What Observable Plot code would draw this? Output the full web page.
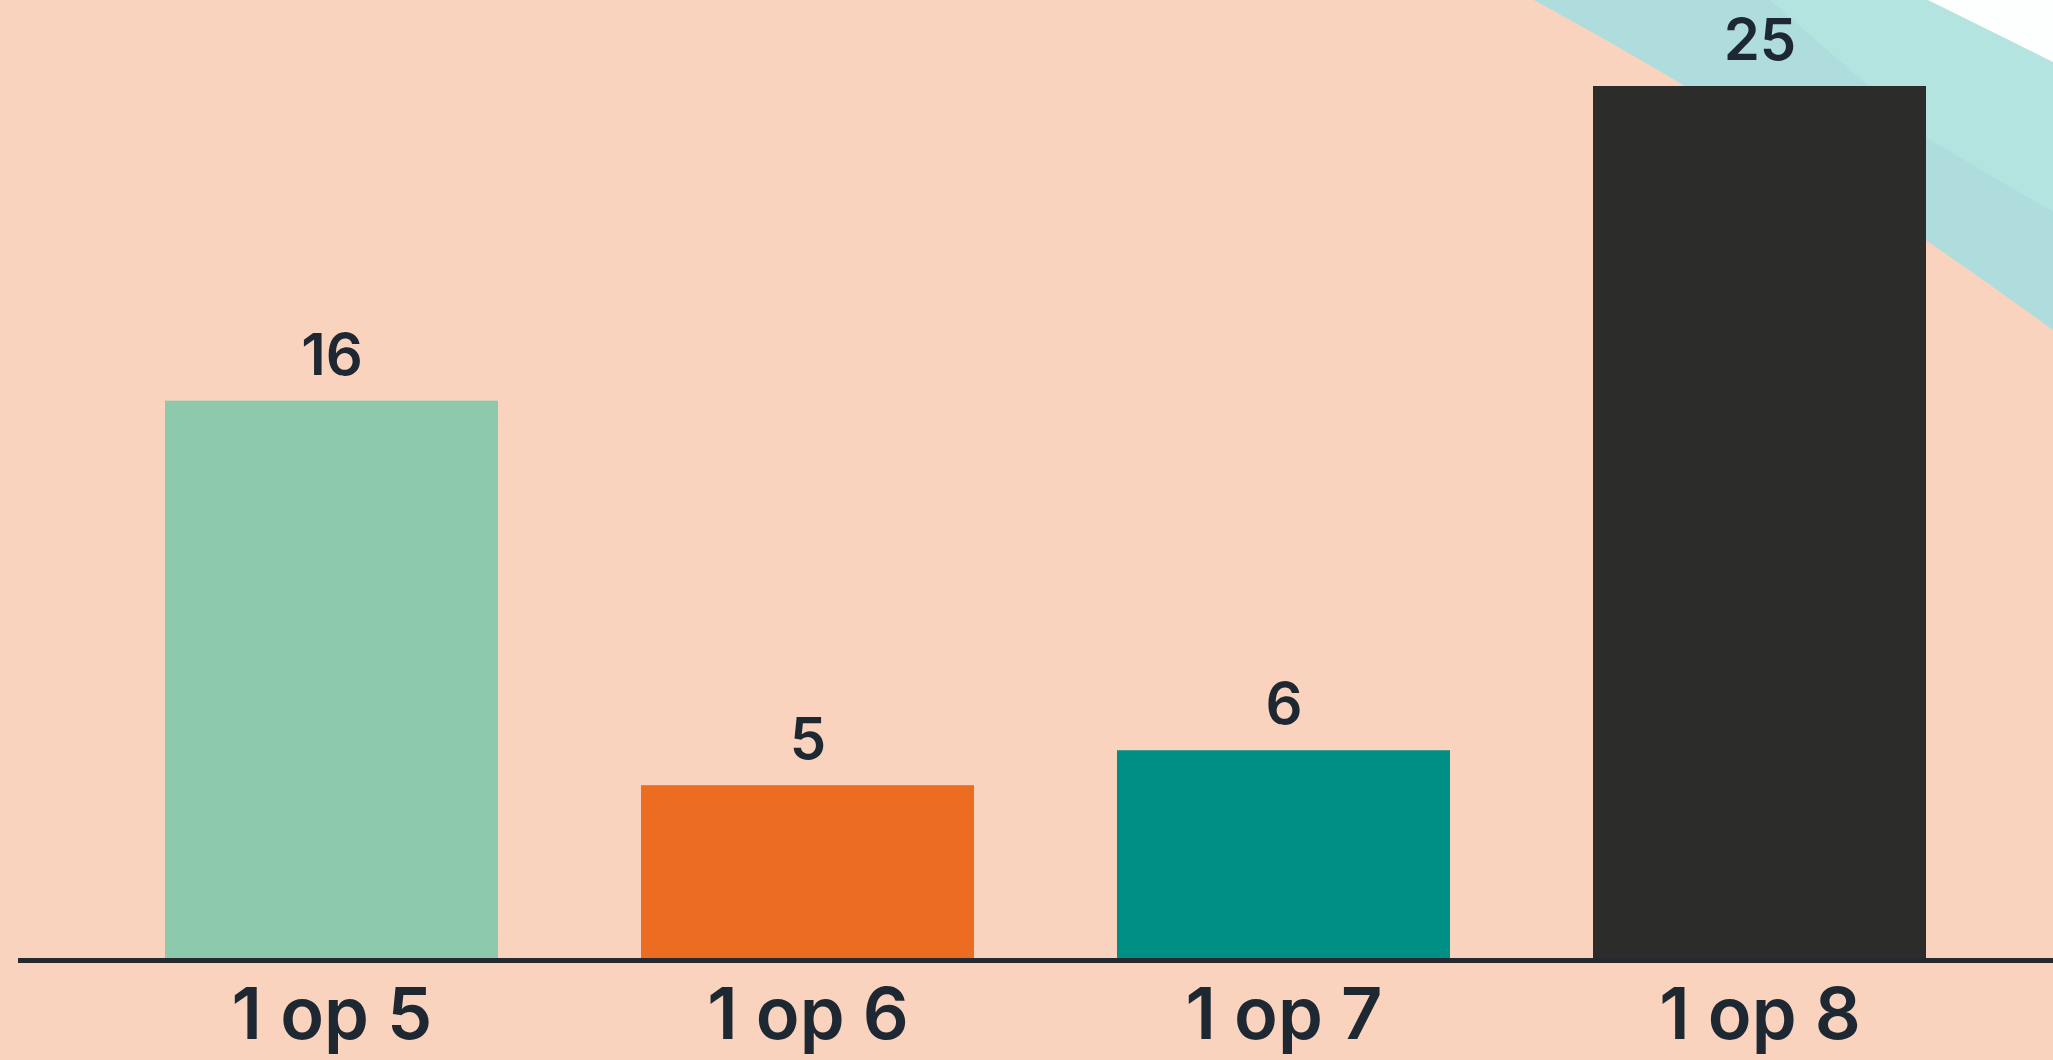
<!DOCTYPE html>
<html>
<head>
<meta charset="utf-8">
<script src="https://cdn.jsdelivr.net/npm/d3@7"></script>
<script src="https://cdn.jsdelivr.net/npm/@observablehq/plot@0.6"></script>
<style>
  html, body { margin: 0; padding: 0; background: #F9D3BD; overflow: hidden; }
  #wrap { position: relative; width: 2053px; height: 1060px; }
  #deco { position: absolute; left: 0; top: 0; }
  #chart { position: absolute; left: 0; top: 0; }
  #chart svg { display: block; }
</style>
</head>
<body>
<div id="wrap">
  <!-- decorative ribbon in the top-right corner -->
  <svg id="deco" width="2053" height="1060" viewBox="0 0 2053 1060">
    <rect width="2053" height="1060" fill="#F9D3BD"/>
    <path d="M1534,0 Q1793,140 2053,330 L2053,62 L1928,0 Z" fill="#B3E4DF"/>
    <path d="M1534,0 Q1793,140 2053,330 L2053,212 L1930,140 L1770,0 Z" fill="#AFDCDD"/>
    <path d="M1928,0 L2053,62 L2053,0 Z" fill="#FDFEFE"/>
  </svg>
  <div id="chart"></div>
</div>
<script>
// Odds categories and counts
const categories = ["1 op 5", "1 op 6", "1 op 7", "1 op 8"];
const values = [16, 5, 6, 25];
const barColors = ["#8DCAAD", "#EC6D22", "#008F84", "#2C2C2A"];

const textColor = "#1E2832";
const data = categories.map((c, i) => ({label: c, value: values[i]}));

const chart = Plot.plot({
  width: 2053,
  height: 1060,
  marginTop: 86,
  marginBottom: 100,
  marginLeft: 94,
  marginRight: 55,
  style: {background: "transparent", fontFamily: "Inter, 'Noto Sans', sans-serif", color: textColor},
  x: {domain: categories, paddingInner: 0.3, paddingOuter: 0.15, label: null},
  y: {domain: [0, 25], axis: null},
  color: {domain: categories, range: barColors},
  marks: [
    Plot.barY(data, {x: "label", y: "value", fill: "label"}),
    Plot.text(data, {
      x: "label", y: "value", text: d => String(d.value),
      dy: -45, fontSize: 58, fontWeight: 600, fill: textColor
    }),
    Plot.ruleY([0], {stroke: "#262A2E", strokeWidth: 5, insetLeft: -76, insetRight: -60}),
    Plot.axisX({
      tickSize: 0, tickPadding: 27, fontSize: 72, fontWeight: 600,
      fill: textColor, label: null
    })
  ]
});
document.getElementById("chart").appendChild(chart);
</script>
</body>
</html>
